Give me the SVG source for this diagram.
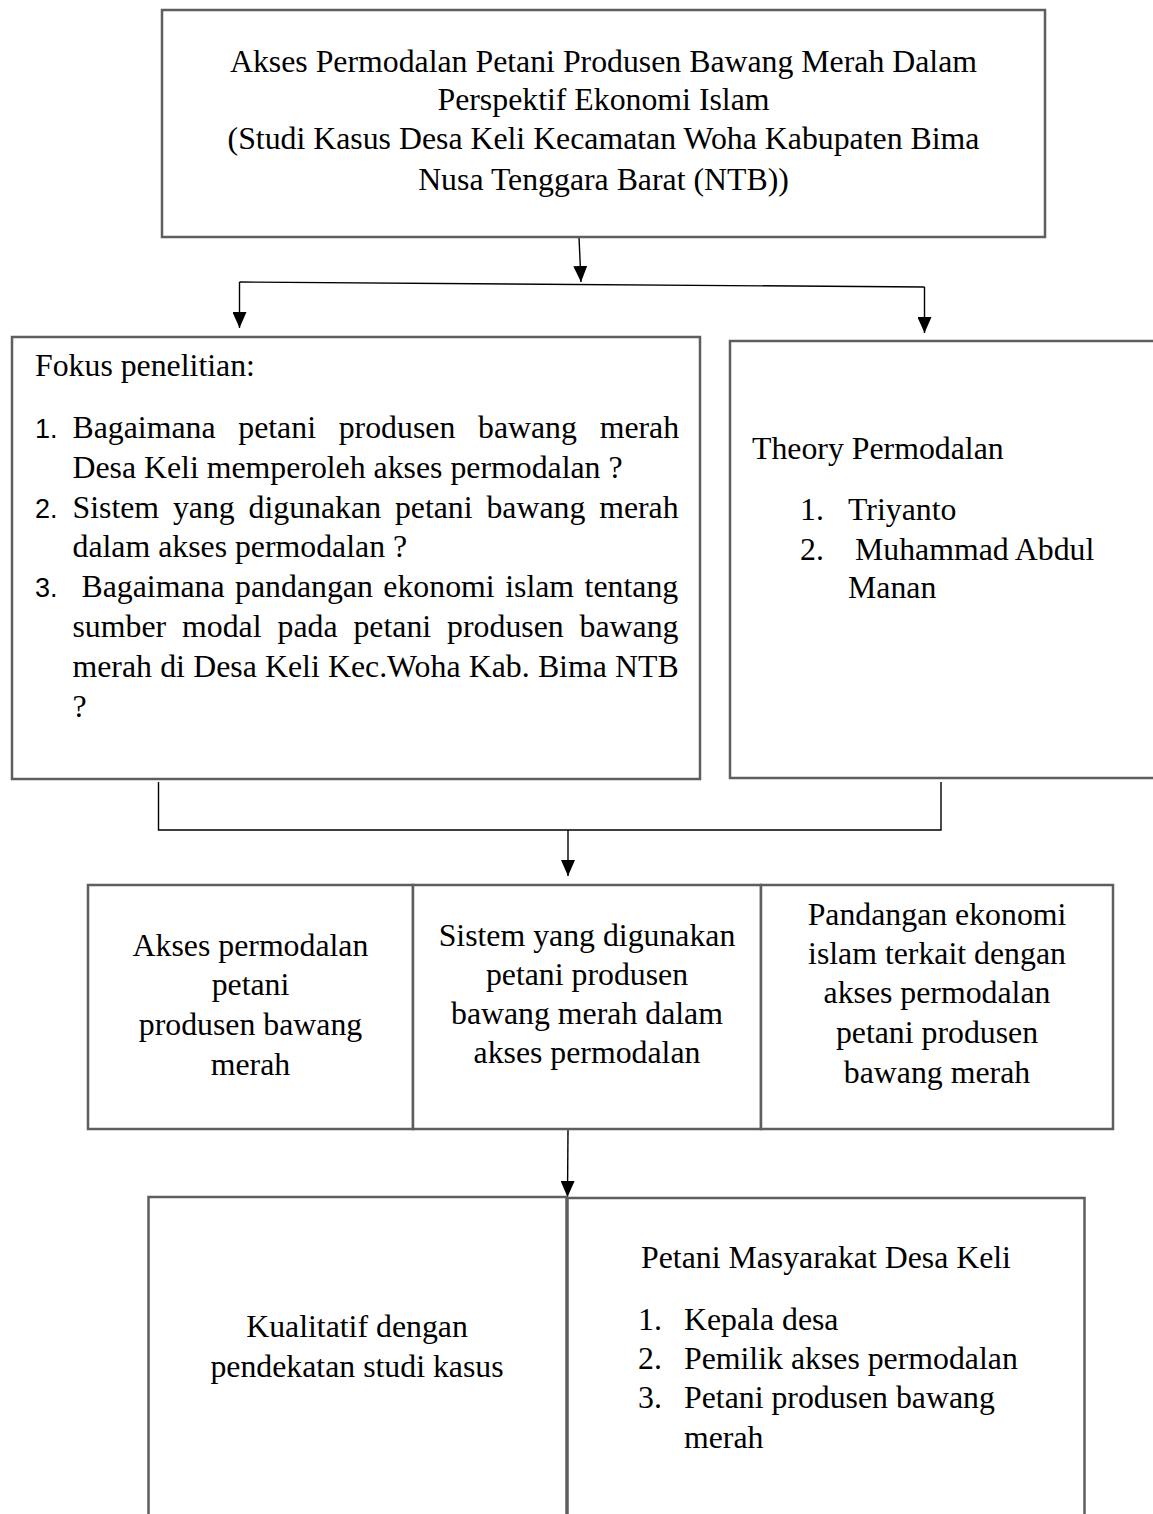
<svg xmlns="http://www.w3.org/2000/svg" width="1153" height="1514" viewBox="0 0 1153 1514">
<style>
.box{fill:#fff;stroke:#5e5e5e;stroke-width:2.5}
.t{font-family:"Liberation Serif","Times New Roman",serif;font-size:31.8px;fill:#000}
.c{text-anchor:middle}
.n{font-family:"Liberation Sans",Arial,sans-serif;font-size:27px;fill:#000}
.ln{fill:none;stroke:#000;stroke-width:1.4}
</style>
<defs>
<marker id="ah" markerUnits="userSpaceOnUse" markerWidth="16" markerHeight="14" refX="16" refY="7" orient="auto">
<path d="M0,0 L16,7 L0,14 z" fill="#000"/>
</marker>
</defs>
<rect width="1153" height="1514" fill="#fff"/>

<g id="connectors">
<line class="ln" x1="579" y1="237" x2="581" y2="282" marker-end="url(#ah)"/>
<line class="ln" x1="239.5" y1="282" x2="924.5" y2="287"/>
<line class="ln" x1="239.5" y1="282" x2="239.5" y2="328" marker-end="url(#ah)"/>
<line class="ln" x1="924.5" y1="287" x2="924.5" y2="333" marker-end="url(#ah)"/>
<polyline class="ln" points="158.5,782 158.5,830 941,830 941,782"/>
<line class="ln" x1="568" y1="830" x2="568" y2="876" marker-end="url(#ah)"/>
<line class="ln" x1="568" y1="1130" x2="567.5" y2="1197" marker-end="url(#ah)"/>
</g>

<g id="title">
<rect class="box" x="162" y="10" width="883" height="227"/>
<text class="t c" x="603.5" y="72">Akses Permodalan Petani Produsen Bawang Merah Dalam</text>
<text class="t c" x="603.5" y="110">Perspektif Ekonomi Islam</text>
<text class="t c" x="603.5" y="149">(Studi Kasus Desa Keli Kecamatan Woha Kabupaten Bima</text>
<text class="t c" x="603.5" y="190">Nusa Tenggara Barat (NTB))</text>
</g>

<g id="fokus">
<rect class="box" x="12" y="337" width="688" height="442"/>
<text class="t" x="35" y="376">Fokus penelitian:</text>
<text class="n" x="35" y="438">1.</text>
<text class="t" x="72.5" y="438" word-spacing="14.8">Bagaimana petani produsen bawang merah</text>
<text class="t" x="72.5" y="478">Desa Keli memperoleh akses permodalan ?</text>
<text class="n" x="35" y="518">2.</text>
<text class="t" x="72.5" y="518" word-spacing="5.9">Sistem yang digunakan petani bawang merah</text>
<text class="t" x="72.5" y="557">dalam akses permodalan ?</text>
<text class="n" x="35" y="597">3.</text>
<text class="t" x="81.5" y="597" word-spacing="2.6">Bagaimana pandangan ekonomi islam tentang</text>
<text class="t" x="72.5" y="637" word-spacing="8">sumber modal pada petani produsen bawang</text>
<text class="t" x="72.5" y="677" word-spacing="0.3">merah di Desa Keli Kec.Woha Kab. Bima NTB</text>
<text class="t" x="72.5" y="717">?</text>
</g>

<g id="theory">
<rect class="box" x="730" y="341" width="440" height="437"/>
<text class="t" x="752" y="459">Theory Permodalan</text>
<text class="t" x="800" y="520">1.</text>
<text class="t" x="848" y="520">Triyanto</text>
<text class="t" x="800" y="560">2.</text>
<text class="t" x="855" y="560">Muhammad Abdul</text>
<text class="t" x="848" y="598">Manan</text>
</g>

<g id="akses">
<rect class="box" x="88" y="885" width="325" height="244"/>
<text class="t c" x="250.5" y="956">Akses permodalan</text>
<text class="t c" x="250.5" y="995">petani</text>
<text class="t c" x="250.5" y="1035">produsen bawang</text>
<text class="t c" x="250.5" y="1075">merah</text>
</g>

<g id="sistem">
<rect class="box" x="413" y="885" width="348" height="244"/>
<text class="t c" x="587" y="946">Sistem yang digunakan</text>
<text class="t c" x="587" y="985">petani produsen</text>
<text class="t c" x="587" y="1024">bawang merah dalam</text>
<text class="t c" x="587" y="1063">akses permodalan</text>
</g>

<g id="pandangan">
<rect class="box" x="761" y="885" width="352" height="244"/>
<text class="t c" x="937" y="925">Pandangan ekonomi</text>
<text class="t c" x="937" y="964">islam terkait dengan</text>
<text class="t c" x="937" y="1003">akses permodalan</text>
<text class="t c" x="937" y="1043">petani produsen</text>
<text class="t c" x="937" y="1083">bawang merah</text>
</g>

<g id="kualitatif">
<rect class="box" x="148.5" y="1197" width="418" height="330"/>
<text class="t c" x="357" y="1337">Kualitatif dengan</text>
<text class="t c" x="357" y="1377">pendekatan studi kasus</text>
</g>

<g id="petani">
<rect class="box" x="567.5" y="1198" width="517" height="330"/>
<text class="t" x="641" y="1268">Petani Masyarakat Desa Keli</text>
<text class="t" x="638" y="1330">1.</text>
<text class="t" x="684" y="1330">Kepala desa</text>
<text class="t" x="638" y="1369">2.</text>
<text class="t" x="684" y="1369">Pemilik akses permodalan</text>
<text class="t" x="638" y="1408">3.</text>
<text class="t" x="684" y="1408">Petani produsen bawang</text>
<text class="t" x="684" y="1448">merah</text>
</g>
</svg>
